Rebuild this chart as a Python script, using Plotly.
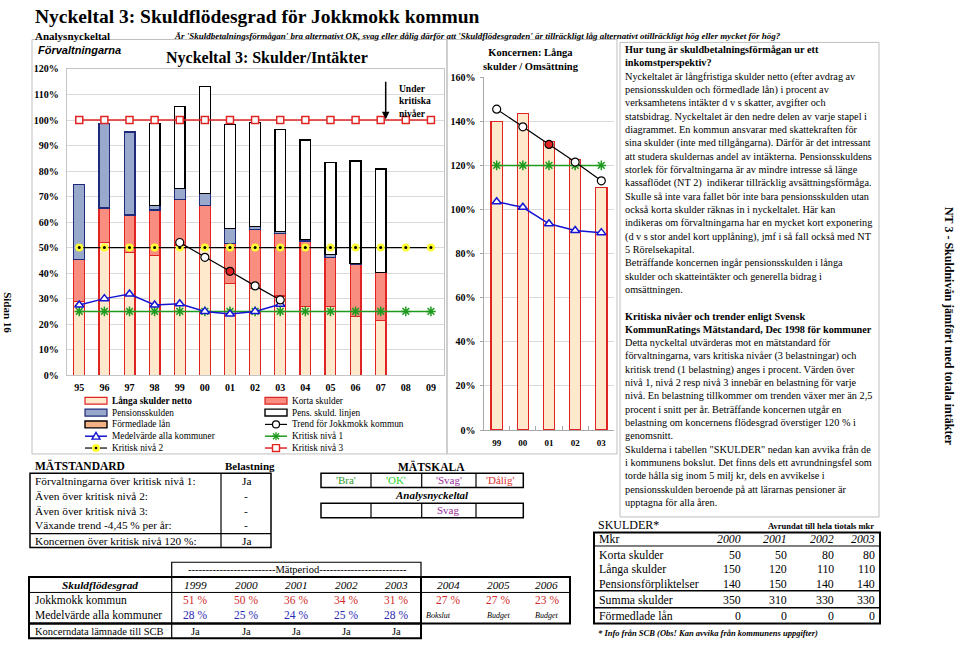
import plotly.graph_objects as go

# ---------------- data ----------------
years = ["95", "96", "97", "98", "99", "00", "01", "02", "03", "04", "05", "06", "07", "08", "09"]
bar_years = ["95", "96", "97", "98", "99", "00", "01", "02", "03", "04", "05", "06", "07"]
langa_skulder = [29.0, 51.9, 48.2, 47.0, 51.0, 50.0, 36.0, 34.0, 31.0, 27.0, 27.0, 23.0, 21.5]
korta_skulder = [16.3, 13.6, 14.6, 17.7, 17.7, 16.4, 15.7, 23.2, 24.5, 25.6, 19.2, 20.3, 18.6]
pensionsskulden = [29.4, 33.2, 32.5, 1.7, 4.5, 4.8, 5.7, 1.1, 0.7, 0.6, 1.2, 0.5, 0.2]
pens_skuld_linjen = [None, None, None, 32.3, 32.1, 42.0, 40.9, 40.7, 40.1, 39.0, 35.9, 40.2, 40.5]
medel_years = ["95", "96", "97", "98", "99", "00", "01", "02", "03"]
medel_alla = [27.5, 30.0, 31.8, 27.5, 28.0, 25.0, 24.0, 25.0, 27.8]
trend_years = ["99", "00", "01", "02", "03"]
trend_jokkmokk = [52.0, 46.2, 40.7, 35.0, 29.5]
kritisk1 = [25, 25, 25, 25, 25, 25, 25, 25, 25, 25, 25, 25, 25, 25, 25]
kritisk2 = [50, 50, 50, 50, 50, 50, 50, 50, 50, 50, 50, 50, 50, 50, 50]
kritisk3 = [100, 100, 100, 100, 100, 100, 100, 100, 100, 100, 100, 100, 100, 100, 100]
left_ticks = [0, 10, 20, 30, 40, 50, 60, 70, 80, 90, 100, 110, 120]
left_ticktext = ["0%", "10%", "20%", "30%", "40%", "50%", "60%", "70%", "80%", "90%", "100%", "110%", "120%"]

k_years = ["99", "00", "01", "02", "03"]
k_langa = [140.0, 143.5, 131.0, 122.5, 110.0]
k_trend = [145.5, 137.5, 129.5, 121.5, 113.0]
k_medel = [103.5, 101.0, 93.5, 90.5, 89.5]
k_kritisk = [120, 120, 120, 120, 120]
right_ticks = [0, 20, 40, 60, 80, 100, 120, 140, 160]
right_ticktext = ["0%", "20%", "40%", "60%", "80%", "100%", "120%", "140%", "160%"]

matstandard_rows = ["Förvaltningarna över kritisk nivå 1:", "Även över kritisk nivå 2:",
                    "Även över kritisk nivå 3:", "Växande trend -4,45 % per år:",
                    "Koncernen över kritisk nivå 120 %:"]
belastning = ["Ja", "-", "-", "-", "Ja"]
matskala = ["'Bra'", "'OK'", "'Svag'", "'Dålig'"]
analys_result = ["", "", "Svag", ""]

tab_years = ["1999", "2000", "2001", "2002", "2003", "2004", "2005", "2006"]
jokkmokk_pct = ["51 %", "50 %", "36 %", "34 %", "31 %", "27 %", "27 %", "23 %"]
medel_pct = ["28 %", "25 %", "24 %", "25 %", "28 %"]
period_notes = ["Bokslut", "Budget", "Budget"]
koncerndata = ["Ja", "Ja", "Ja", "Ja", "Ja"]

skulder_years = ["2000", "2001", "2002", "2003"]
skulder_rows = ["Korta skulder", "Långa skulder", "Pensionsförpliktelser", "Summa skulder", "Förmedlade lån"]
skulder_vals = [[50, 50, 80, 80], [150, 120, 110, 110], [140, 150, 140, 140],
                [350, 310, 330, 330], [0, 0, 0, 0]]

text_lines = [
    "<b>Hur tung är skuldbetalningsförmågan ur ett</b>",
    "<b>inkomstperspektiv?</b>",
    "Nyckeltalet är långfristiga skulder netto (efter avdrag av",
    "pensionsskulden och förmedlade lån) i procent av",
    "verksamhetens intäkter d v s skatter, avgifter och",
    "statsbidrag. Nyckeltalet är den nedre delen av varje stapel i",
    "diagrammet. En kommun ansvarar med skattekraften för",
    "sina skulder (inte med tillgångarna). Därför är det intressant",
    "att studera skuldernas andel av intäkterna. Pensionsskuldens",
    "storlek för förvaltningarna är av mindre intresse så länge",
    "kassaflödet (NT 2)  indikerar tillräcklig avsättningsförmåga.",
    "Skulle så inte vara fallet bör inte bara pensionsskulden utan",
    "också korta skulder räknas in i nyckeltalet. Här kan",
    "indikeras om förvaltningarna har en mycket kort exponering",
    "(d v s stor andel kort upplåning), jmf i så fall också med NT",
    "5 Rörelsekapital.",
    "Beträffande koncernen ingår pensionsskulden i långa",
    "skulder och skatteintäkter och generella bidrag i",
    "omsättningen.",
    " ",
    "<b>Kritiska nivåer och trender enligt Svensk</b>",
    "<b>KommunRatings Mätstandard, Dec 1998 för kommuner</b>",
    "Detta nyckeltal utvärderas mot en mätstandard för",
    "förvaltningarna, vars kritiska nivåer (3 belastningar) och",
    "kritisk trend (1 belastning) anges i procent. Värden över",
    "nivå 1, nivå 2 resp nivå 3 innebär en belastning för varje",
    "nivå. En belastning tillkommer om trenden växer mer än 2,5",
    "procent i snitt per år. Beträffande koncernen utgår en",
    "belastning om koncernens flödesgrad överstiger 120 % i",
    "genomsnitt.",
    "Skulderna i tabellen \"SKULDER\" nedan kan avvika från de",
    "i kommunens bokslut. Det finns dels ett avrundningsfel som",
    "torde hålla sig inom 5 milj kr, dels en avvikelse i",
    "pensionsskulden beroende på att lärarnas pensioner är",
    "upptagna för alla åren.",
]

# ---------------- helpers ----------------
W, H = 959, 646
SERIF = "Liberation Serif"
SANS = "Liberation Sans"


def px(x):
    return x / W


def py(y):
    return 1 - y / H


BEIGE = "#FFE9CC"
SALMON = "#F98E80"
PBLUE = "#98A9CB"
RED = "#E02424"
NAVY = "#1F2A7A"
GREEN = "#1E9A1E"
BLUE = "#1414D2"
ORANGE = "#F4B183"
YELLOW = "#FFFF33"

shapes = []
annotations = []


def rect(x0, y0, x1, y1, color="black", width=1.0, fill="rgba(0,0,0,0)"):
    shapes.append(dict(type="rect", xref="paper", yref="paper", x0=px(x0), x1=px(x1),
                       y0=py(y1), y1=py(y0), line=dict(color=color, width=width),
                       fillcolor=fill, layer="above"))


def hline(x0, x1, y, color="black", width=1.0):
    shapes.append(dict(type="line", xref="paper", yref="paper", x0=px(x0), x1=px(x1),
                       y0=py(y), y1=py(y), line=dict(color=color, width=width), layer="above"))


def vline(x, y0, y1, color="black", width=1.0):
    shapes.append(dict(type="line", xref="paper", yref="paper", x0=px(x), x1=px(x),
                       y0=py(y0), y1=py(y1), line=dict(color=color, width=width), layer="above"))


def txt(x, y, text, size=11, xanchor="left", yanchor="middle", color="black",
        family=SERIF, angle=0, align="left"):
    annotations.append(dict(x=px(x), y=py(y), xref="paper", yref="paper", text=text,
                            showarrow=False, xanchor=xanchor, yanchor=yanchor,
                            textangle=angle, align=align,
                            font=dict(family=family, size=size, color=color)))


fig = go.Figure()

# ---------------- left chart ----------------
fig.add_trace(go.Bar(x=bar_years, y=langa_skulder, name="Långa skulder netto",
                     marker=dict(color=BEIGE, line=dict(color=RED, width=1.2))))
fig.add_trace(go.Bar(x=bar_years, y=korta_skulder, name="Korta skulder",
                     marker=dict(color=SALMON, line=dict(color=RED, width=1.2))))
fig.add_trace(go.Bar(x=bar_years, y=pensionsskulden, name="Pensionsskulden",
                     marker=dict(color=PBLUE, line=dict(color=NAVY, width=1.2))))
fig.add_trace(go.Bar(x=bar_years, y=pens_skuld_linjen, name="Pens. skuld. linjen",
                     marker=dict(color="white", line=dict(color="black", width=1.4))))

fig.add_trace(go.Scatter(x=years, y=kritisk3, mode="lines+markers", name="Kritisk nivå 3",
                         line=dict(color=RED, width=1.5),
                         marker=dict(symbol="square", size=7, color="white",
                                     line=dict(color=RED, width=1.5))))
fig.add_trace(go.Scatter(x=years, y=kritisk2, mode="lines+markers", name="Kritisk nivå 2",
                         line=dict(color="black", width=1.2),
                         marker=dict(symbol="circle", size=8, color=YELLOW,
                                     line=dict(width=0))))
fig.add_trace(go.Scatter(x=years, y=kritisk2, mode="markers", showlegend=False,
                         marker=dict(symbol="circle", size=3, color="black")))
fig.add_trace(go.Scatter(x=years, y=kritisk1, mode="lines+markers", name="Kritisk nivå 1",
                         line=dict(color=GREEN, width=1.5),
                         marker=dict(symbol="asterisk-open", size=8, color=GREEN,
                                     line=dict(color=GREEN, width=1.5))))
fig.add_trace(go.Scatter(x=medel_years, y=medel_alla, mode="lines+markers",
                         name="Medelvärde alla kommuner",
                         line=dict(color=BLUE, width=1.5),
                         marker=dict(symbol="triangle-up", size=8, color="white",
                                     line=dict(color=BLUE, width=1.5))))
fig.add_trace(go.Scatter(x=trend_years, y=trend_jokkmokk, mode="lines+markers",
                         name="Trend för Jokkmokk kommun",
                         line=dict(color="black", width=1.2),
                         marker=dict(symbol="circle", size=8,
                                     color=["white", "white", RED, "white", "white"],
                                     line=dict(color="black", width=1.2))))

# ---------------- right chart ----------------
fig.add_trace(go.Bar(x=k_years, y=k_langa, xaxis="x2", yaxis="y2",
                     marker=dict(color=BEIGE, line=dict(color=RED, width=1.2))))
fig.add_trace(go.Scatter(x=k_years, y=k_kritisk, xaxis="x2", yaxis="y2", mode="lines+markers",
                         line=dict(color=GREEN, width=1.5),
                         marker=dict(symbol="asterisk-open", size=8, color=GREEN,
                                     line=dict(color=GREEN, width=1.5))))
fig.add_trace(go.Scatter(x=k_years, y=k_medel, xaxis="x2", yaxis="y2", mode="lines+markers",
                         line=dict(color=BLUE, width=1.5),
                         marker=dict(symbol="triangle-up", size=8, color="white",
                                     line=dict(color=BLUE, width=1.5))))
fig.add_trace(go.Scatter(x=k_years, y=k_trend, xaxis="x2", yaxis="y2", mode="lines+markers",
                         line=dict(color="black", width=1.2),
                         marker=dict(symbol="circle", size=8,
                                     color=["white", "white", RED, "white", "white"],
                                     line=dict(color="black", width=1.2))))

tickfont = dict(family=SERIF, size=10, color="black", weight="bold")

fig.update_layout(
    width=W, height=H, margin=dict(l=0, r=0, t=0, b=0),
    paper_bgcolor="white", plot_bgcolor="white",
    barmode="stack", bargap=0.57, showlegend=False,
    font=dict(family=SERIF, color="black"),
    xaxis=dict(domain=[px(66.7), px(443.5)], anchor="y", type="category",
               categoryorder="array", categoryarray=years, range=[-0.5, 14.5],
               showgrid=False, showline=True, linecolor="#C4C4C4", mirror=True,
               ticks="", tickfont=tickfont, ticklabelstandoff=3),
    yaxis=dict(domain=[py(376), py(65)], anchor="x", range=[0, 120],
               tickvals=left_ticks, ticktext=left_ticktext, gridcolor="#DADADA",
               showline=True, linecolor="#C4C4C4", mirror=True, zeroline=False,
               ticks="", tickfont=tickfont, ticklabelstandoff=5),
    xaxis2=dict(domain=[px(483.6), px(614.4)], anchor="y2", type="category",
                categoryorder="array", categoryarray=k_years, range=[-0.5, 4.5],
                showgrid=False, showline=True, linecolor="#A8A8A8",
                ticks="inside", tickson="boundaries", ticklen=4, tickcolor="#A8A8A8",
                tickfont=dict(family=SERIF, size=9, color="black", weight="bold"),
                ticklabelstandoff=4),
    yaxis2=dict(domain=[py(431.7), py(73.3)], anchor="x2", range=[0, 160],
                tickvals=right_ticks, ticktext=right_ticktext, gridcolor="#DADADA",
                showline=True, linecolor="#A8A8A8", zeroline=False,
                ticks="outside", ticklen=3, tickcolor="#A8A8A8",
                tickfont=tickfont, ticklabelstandoff=2),
)

# ---------------- frames ----------------
rect(32, 35, 447, 456, color="#BFBFBF", width=1)
rect(447, 35, 617, 456, color="#BFBFBF", width=1)
rect(620, 38, 879, 520, color="#BFBFBF", width=1)

# ---------------- titles ----------------
txt(33, 12, "<b>Nyckeltal 3: Skuldflödesgrad för Jokkmokk kommun</b>", size=19.5)
txt(33, 31.5, "<b>Analysnyckeltal</b>", size=11)
txt(172, 31.5, "<b><i>Är 'Skuldbetalningsförmågan' bra alternativt OK, svag eller dålig därför att "
               "'Skuldflödesgraden' är tillräckligt låg alternativt otillräckligt hög eller mycket "
               "för hög?</i></b>", size=9.0)
txt(36, 45.5, "<b><i>Förvaltningarna</i></b>", size=11, family=SANS)
txt(267, 53.5, "<b>Nyckeltal 3: Skulder/Intäkter</b>", size=16, xanchor="center")
txt(531, 55.5, "<b>Koncernen: Långa<br>skulder / Omsättning</b>", size=10.5, xanchor="center",
    align="center")
txt(8, 312, "<b>Sidan 16</b>", size=11, xanchor="center", angle=90)
txt(949, 326, "<b>NT 3 - Skuldnivån jämfört med totala intäkter</b>", size=12,
    xanchor="center", angle=90)

# arrow + note
annotations.append(dict(x=px(385.7), y=py(116), ax=0, ay=-39, xref="paper",
                        yref="paper", axref="pixel", ayref="pixel", text="", showarrow=True,
                        arrowhead=2, arrowsize=1, arrowwidth=1.5, arrowcolor="black"))
txt(397, 98, "<b>Under<br>kritiska<br>nivåer</b>", size=9.5)

# ---------------- manual legend (left chart) ----------------
rows_y = [402, 414, 426, 438, 450]
LX0, LX1, LT = 85, 107, 110
RX0, RX1, RT = 265, 287, 290
hh = 3.5
rect(LX0, rows_y[0] - hh, LX1, rows_y[0] + hh, color=RED, width=1.2, fill=BEIGE)
txt(LT, rows_y[0], "<b>Långa skulder netto</b>", size=9.3)
rect(RX0, rows_y[0] - hh, RX1, rows_y[0] + hh, color=RED, width=1.2, fill=SALMON)
txt(RT, rows_y[0], "Korta skulder", size=9.3)
rect(LX0, rows_y[1] - hh, LX1, rows_y[1] + hh, color=NAVY, width=1.2, fill=PBLUE)
txt(LT, rows_y[1], "Pensionsskulden", size=9.3)
rect(RX0, rows_y[1] - hh, RX1, rows_y[1] + hh, color="black", width=1.4, fill="white")
txt(RT, rows_y[1], "Pens. skuld. linjen", size=9.3)
rect(LX0, rows_y[2] - hh, LX1, rows_y[2] + hh, color="black", width=1.4, fill=ORANGE)
txt(LT, rows_y[2], "Förmedlade lån", size=9.3)
# trend
hline(RX0, RX1, rows_y[2], color="black", width=1.2)
shapes.append(dict(type="circle", xref="paper", yref="paper", x0=px(276 - 3.5), x1=px(276 + 3.5),
                   y0=py(rows_y[2] + 3.5), y1=py(rows_y[2] - 3.5), fillcolor="white",
                   line=dict(color="black", width=1.2), layer="above"))
txt(RT, rows_y[2], "Trend för Jokkmokk kommun", size=9.3)
# medel
hline(LX0, LX1, rows_y[3], color=BLUE, width=1.5)
cy = rows_y[3]
shapes.append(dict(type="path", xref="paper", yref="paper",
                   path=f"M {px(96)},{py(cy - 4)} L {px(100)},{py(cy + 3)} L {px(92)},{py(cy + 3)} Z",
                   fillcolor="white", line=dict(color=BLUE, width=1.4), layer="above"))
txt(LT, rows_y[3], "Medelvärde alla kommuner", size=9.3)
# kritisk 1
hline(RX0, RX1, rows_y[3], color=GREEN, width=1.5)
for dx, dy in [(0, 4), (4, 0), (3, 3), (3, -3)]:
    shapes.append(dict(type="line", xref="paper", yref="paper", x0=px(276 - dx), x1=px(276 + dx),
                       y0=py(cy - dy), y1=py(cy + dy), line=dict(color=GREEN, width=1.3),
                       layer="above"))
txt(RT, rows_y[3], "Kritisk nivå 1", size=9.3)
# kritisk 2
cy = rows_y[4]
hline(LX0, LX1, cy, color="black", width=1.2)
shapes.append(dict(type="circle", xref="paper", yref="paper", x0=px(96 - 4), x1=px(96 + 4),
                   y0=py(cy + 4), y1=py(cy - 4), fillcolor=YELLOW, line=dict(width=0),
                   layer="above"))
shapes.append(dict(type="circle", xref="paper", yref="paper", x0=px(96 - 1.3), x1=px(96 + 1.3),
                   y0=py(cy + 1.3), y1=py(cy - 1.3), fillcolor="black", line=dict(width=0),
                   layer="above"))
txt(LT, cy, "Kritisk nivå 2", size=9.3)
# kritisk 3
hline(RX0, RX1, cy, color=RED, width=1.5)
rect(276 - 3.5, cy - 3.5, 276 + 3.5, cy + 3.5, color=RED, width=1.4, fill="white")
txt(RT, cy, "Kritisk nivå 3", size=9.3)

# ---------------- text box ----------------
annotations.append(dict(x=px(623), y=py(38), xref="paper", yref="paper",
                        text="<br>".join(text_lines), showarrow=False, xanchor="left",
                        yanchor="top", align="left",
                        font=dict(family=SERIF, size=10.25, color="black")))

# ---------------- MÄTSTANDARD ----------------
txt(33, 468, "<b>MÄTSTANDARD</b>", size=11.5)
txt(223, 468, "<b>Belastning</b>", size=11)
rect(30, 475.7, 271, 551, color="black", width=1.5)
vline(221, 475.7, 551, width=1.2)
hline(30, 271, 537, width=1.2)
ms_y = [483.5, 498.5, 513.5, 528, 544.3]
for lbl, val, yy in zip(matstandard_rows, belastning, ms_y):
    txt(33, yy, lbl, size=11.3)
    txt(246, yy, val, size=11.3, xanchor="center")

# ---------------- MÄTSKALA ----------------
txt(431.7, 469, "<b>MÄTSKALA</b>", size=11.5, xanchor="center")
col_edges = [321, 371, 421.7, 476, 523.3]
skala_colors = ["#2E9A2E", "#2FD22F", "#9B2F9B", "#E03030"]
rect(col_edges[0], 475.7, col_edges[-1], 490, color="black", width=1.5)
rect(col_edges[0], 506, col_edges[-1], 520.7, color="black", width=1.5)
for e in col_edges[1:-1]:
    vline(e, 475.7, 490, width=1.2)
    vline(e, 506, 520.7, width=1.2)
for i, (lab, res, colr) in enumerate(zip(matskala, analys_result, skala_colors)):
    cx = (col_edges[i] + col_edges[i + 1]) / 2
    txt(cx, 482.8, lab, size=11, xanchor="center", color=colr)
    if res:
        txt(cx, 513.3, res, size=11, xanchor="center", color=colr)
txt(431.7, 497.8, "<b><i>Analysnyckeltal</i></b>", size=11, xanchor="center")

# ---------------- Skuldflödesgrad table ----------------
T_L, T_DIV, T_MID, T_R = 29, 171.7, 421, 570
rect(T_DIV, 566, T_MID, 581, color="black", width=1.2)
txt(297.5, 573.5, "-" * 25 + "Mätperiod" + "-" * 25, size=10.5, xanchor="center")
rect(T_L, 581, T_R, 628.3, color="black", width=2)
hline(T_L, T_R, 596.7, width=1)
rect(T_L, 628.3, T_MID, 643.3, color="black", width=2)
vline(T_DIV, 581, 643.3, width=1.2)
vline(T_MID, 581, 643.3, width=2)
col_cx = [195, 246, 296, 346, 396, 448.3, 498.3, 546.7]
txt((T_L + T_DIV) / 2, 589, "<b><i>Skuldflödesgrad</i></b>", size=11.3, xanchor="center")
for cx, yr in zip(col_cx, tab_years):
    txt(cx, 589, f"<i>{yr}</i>", size=11.3, xanchor="center")
txt(33, 604.3, "Jokkmokk kommun", size=11.5)
for cx, v in zip(col_cx, jokkmokk_pct):
    txt(cx, 604.3, v, size=11.5, xanchor="center", color="#D22A2A")
txt(33, 619.3, "Medelvärde alla kommuner", size=11.5)
for cx, v in zip(col_cx[:5], medel_pct):
    txt(cx, 619.3, v, size=11.5, xanchor="center", color="#2A2AB4")
txt(423.5, 620, f"<i>{period_notes[0]}</i>", size=8)
for cx, v in zip(col_cx[6:], period_notes[1:]):
    txt(cx, 620, f"<i>{v}</i>", size=8, xanchor="center")
txt(33, 636, "Koncerndata lämnade till SCB", size=10.5)
for cx, v in zip(col_cx[:5], koncerndata):
    txt(cx, 636, v, size=10.5, xanchor="center")

# ---------------- SKULDER table ----------------
txt(596, 528, "SKULDER*", size=12)
txt(876, 529, "<b>Avrundat till hela tiotals mkr</b>", size=8.5, xanchor="right")
rect(594, 535.7, 880, 628.3, color="black", width=2)
hline(594, 880, 549.5, width=1)
hline(594, 880, 595, width=1.6)
hline(594, 880, 612.3, width=1.6)
s_cols = [742.7, 789.3, 836, 877]
txt(597, 542.6, "Mkr", size=11.8)
for cx, yr in zip(s_cols, skulder_years):
    txt(cx, 542.6, f"<i>{yr}</i>", size=11.8, xanchor="right")
s_rows_y = [558.3, 573, 587.7, 604, 620.7]
for lbl, vals, yy in zip(skulder_rows, skulder_vals, s_rows_y):
    txt(597, yy, lbl, size=11.8)
    for cx, v in zip(s_cols, vals):
        txt(cx, yy, str(v), size=11.8, xanchor="right")
txt(596, 638, "<b><i>* Info från SCB (Obs! Kan avvika från kommunens uppgifter)</i></b>", size=8.5)

fig.update_layout(shapes=shapes, annotations=annotations)
fig.write_html("out.html", config={"displayModeBar": False},
               post_script="document.body.style.margin='0px';document.body.style.padding='0px';")
